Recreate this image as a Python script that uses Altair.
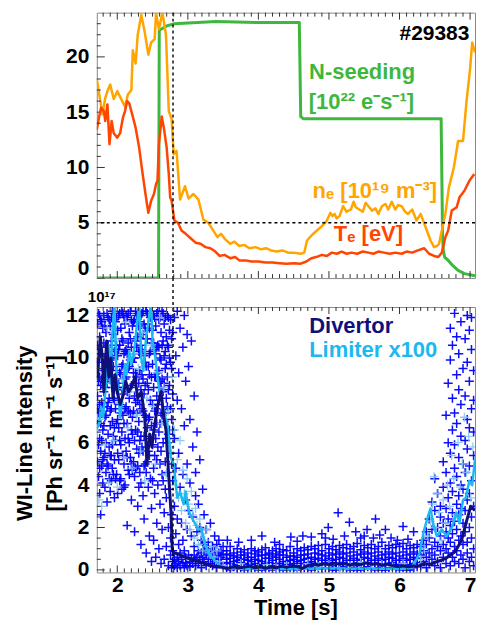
import altair as alt
import pandas as pd

# ------------------------------------------------------------------ data
# top panel: (time [s], value)
nseed_pts = [(1.71, 0.0), (2.585, 0.0), (2.595, 22.4), (2.70, 22.8), (2.81, 23.0), (3.40, 23.2),
             (4.00, 23.1), (4.58, 23.1), (4.60, 14.6), (4.64, 14.4), (5.50, 14.4), (6.59, 14.4),
             (6.61, 4.0), (6.62, 2.5), (6.64, 1.9), (6.69, 1.6), (6.76, 1.1), (6.83, 0.7),
             (6.92, 0.4), (7.07, 0.2)]

ne_pts = [(1.71, 18.0), (1.76, 16.0), (1.79, 14.8), (1.83, 16.3), (1.86, 16.9), (1.90, 17.5),
          (1.95, 16.2), (2.00, 16.9), (2.07, 16.0), (2.11, 15.5), (2.15, 16.6), (2.20, 17.0),
          (2.22, 20.6), (2.26, 19.4), (2.29, 22.0), (2.34, 23.8), (2.39, 22.2), (2.44, 20.2),
          (2.48, 21.3), (2.53, 21.6), (2.55, 24.0), (2.59, 22.5), (2.64, 24.0), (2.69, 22.0),
          (2.73, 15.1), (2.77, 14.4), (2.80, 11.2), (2.84, 11.5), (2.89, 7.1), (2.96, 8.3),
          (3.01, 7.2), (3.08, 7.6), (3.15, 7.1), (3.22, 5.3), (3.29, 5.0), (3.35, 4.4),
          (3.42, 3.7), (3.47, 4.0), (3.53, 3.5), (3.60, 3.1), (3.66, 3.3), (3.73, 2.9),
          (3.80, 3.0), (3.87, 2.7), (3.96, 2.8), (4.04, 2.6), (4.11, 2.7), (4.18, 2.5),
          (4.26, 2.4), (4.34, 2.5), (4.42, 2.3), (4.50, 2.3), (4.60, 2.2), (4.65, 2.3),
          (4.69, 3.4), (4.76, 3.9), (4.83, 4.3), (4.90, 4.7), (4.97, 5.2), (5.02, 5.9),
          (5.05, 5.6), (5.08, 5.8), (5.11, 5.4), (5.15, 5.6), (5.20, 6.5), (5.25, 6.0),
          (5.31, 6.2), (5.35, 6.9), (5.38, 6.4), (5.43, 6.2), (5.48, 6.0), (5.52, 6.8),
          (5.56, 6.5), (5.61, 6.1), (5.66, 6.3), (5.70, 5.8), (5.75, 6.5), (5.80, 6.7),
          (5.84, 6.2), (5.89, 6.9), (5.94, 6.2), (5.98, 6.6), (6.03, 6.5), (6.08, 6.0),
          (6.12, 5.8), (6.18, 6.2), (6.24, 5.2), (6.30, 5.8), (6.37, 4.6), (6.44, 3.4),
          (6.49, 2.8), (6.53, 2.9), (6.56, 3.1), (6.60, 4.3), (6.65, 5.8), (6.70, 8.2),
          (6.77, 10.0), (6.83, 12.4), (6.90, 12.4), (6.95, 16.0), (7.00, 18.9), (7.03, 21.3),
          (7.07, 20.4)]

te_pts = [(1.71, 13.4), (1.74, 14.5), (1.77, 15.4), (1.81, 15.1), (1.83, 14.2), (1.86, 15.7),
          (1.89, 12.1), (1.92, 14.2), (1.95, 13.1), (2.00, 12.7), (2.04, 13.1), (2.08, 14.5),
          (2.11, 15.1), (2.14, 16.0), (2.17, 15.8), (2.22, 14.6), (2.26, 13.6), (2.31, 11.8),
          (2.36, 9.4), (2.40, 7.6), (2.44, 5.9), (2.48, 7.0), (2.52, 7.6), (2.55, 8.5),
          (2.57, 8.8), (2.59, 12.1), (2.63, 14.6), (2.66, 13.6), (2.70, 11.8), (2.73, 9.4),
          (2.75, 7.3), (2.77, 7.0), (2.81, 5.2), (2.86, 5.0), (2.91, 4.3), (2.97, 4.0),
          (3.04, 3.6), (3.11, 3.2), (3.18, 3.1), (3.25, 2.8), (3.32, 2.7), (3.39, 2.4),
          (3.45, 2.0), (3.52, 2.1), (3.60, 1.8), (3.67, 1.9), (3.73, 1.6), (3.82, 1.6),
          (3.90, 1.5), (4.00, 1.5), (4.10, 1.4), (4.20, 1.4), (4.30, 1.35), (4.40, 1.3),
          (4.50, 1.35), (4.60, 1.3), (4.68, 1.5), (4.75, 1.8), (4.82, 1.9), (4.90, 2.1),
          (4.97, 2.0), (5.04, 2.3), (5.11, 2.2), (5.18, 2.4), (5.25, 2.2), (5.32, 2.3),
          (5.40, 2.2), (5.48, 2.4), (5.56, 2.3), (5.63, 2.2), (5.70, 2.4), (5.78, 2.3),
          (5.86, 2.2), (5.94, 2.3), (6.03, 2.2), (6.10, 2.4), (6.18, 2.3), (6.26, 2.5),
          (6.35, 2.7), (6.42, 2.2), (6.49, 2.0), (6.55, 1.9), (6.60, 2.3), (6.65, 3.7),
          (6.69, 4.3), (6.74, 6.1), (6.81, 6.4), (6.85, 7.3), (6.92, 7.9), (6.99, 8.8),
          (7.06, 9.4)]

# bottom panel: smoothed lines, 1e17 Ph sr-1 m-1 s-1
div_pts = [(1.71, 10.0), (1.72, 9.1), (1.76, 11.0), (1.79, 9.9), (1.81, 8.4), (1.85, 10.8),
           (1.88, 9.1), (1.91, 10.0), (1.94, 8.1), (1.97, 9.2), (2.00, 8.4), (2.04, 7.8),
           (2.09, 8.3), (2.12, 8.9), (2.16, 8.4), (2.20, 8.6), (2.25, 9.1), (2.29, 8.1),
           (2.34, 8.4), (2.39, 7.2), (2.42, 5.0), (2.46, 6.4), (2.49, 5.8), (2.52, 6.6),
           (2.57, 7.7), (2.62, 8.4), (2.66, 7.2), (2.69, 6.6), (2.73, 4.4), (2.76, 2.8),
           (2.78, 0.9), (2.81, 0.8), (2.90, 0.7), (3.00, 0.55), (3.10, 0.45), (3.20, 0.35),
           (3.33, 0.2), (3.45, 0.15), (3.56, 0.07), (3.65, 0.15), (3.72, 0.1), (3.79, 0.12),
           (3.88, 0.18), (3.95, 0.1), (4.03, 0.15), (4.10, 0.08), (4.18, 0.14), (4.25, 0.1),
           (4.33, 0.18), (4.40, 0.12), (4.48, 0.2), (4.56, 0.15), (4.62, 0.07), (4.70, 0.2),
           (4.78, 0.28), (4.85, 0.22), (4.92, 0.3), (5.00, 0.25), (5.08, 0.32), (5.15, 0.26),
           (5.23, 0.3), (5.30, 0.22), (5.38, 0.3), (5.45, 0.25), (5.52, 0.33), (5.60, 0.27),
           (5.68, 0.3), (5.75, 0.22), (5.83, 0.28), (5.90, 0.2), (5.98, 0.16), (6.05, 0.2),
           (6.13, 0.15), (6.20, 0.18), (6.28, 0.2), (6.35, 0.3), (6.43, 0.25), (6.51, 0.37),
           (6.58, 0.45), (6.65, 0.53), (6.72, 0.7), (6.78, 0.84), (6.83, 1.1), (6.88, 1.4),
           (6.95, 2.3), (7.01, 3.0), (7.07, 2.8)]

lim_pts = [(1.70, 6.6), (1.74, 6.9), (1.77, 7.7), (1.80, 7.2), (1.83, 8.4), (1.86, 9.7),
           (1.88, 10.6), (1.90, 8.8), (1.93, 11.1), (1.96, 12.6), (1.99, 9.2), (2.02, 8.1),
           (2.04, 7.2), (2.08, 8.4), (2.11, 9.7), (2.13, 9.2), (2.17, 10.3), (2.20, 9.7),
           (2.25, 10.6), (2.27, 11.3), (2.31, 12.6), (2.34, 10.0), (2.37, 9.4), (2.41, 11.0),
           (2.45, 11.9), (2.48, 12.6), (2.50, 10.8), (2.54, 10.0), (2.57, 9.1), (2.60, 8.4),
           (2.64, 7.8), (2.68, 7.2), (2.71, 6.9), (2.76, 5.3), (2.80, 5.0), (2.85, 3.4),
           (2.89, 3.7), (2.94, 3.1), (2.97, 3.7), (3.01, 2.8), (3.05, 2.5), (3.10, 2.2),
           (3.15, 1.9), (3.19, 2.0), (3.24, 1.25), (3.30, 0.78), (3.38, 0.45), (3.45, 0.2),
           (3.52, 0.1), (3.60, 0.05), (3.70, 0.08), (3.80, 0.03), (3.90, 0.06), (4.00, 0.04),
           (4.20, 0.07), (4.40, 0.03), (4.60, 0.06), (4.80, 0.05), (5.00, 0.08), (5.20, 0.04),
           (5.40, 0.07), (5.60, 0.05), (5.80, 0.06), (6.00, 0.04), (6.15, 0.08), (6.21, 0.3),
           (6.28, 0.76), (6.35, 1.9), (6.41, 2.6), (6.44, 2.9), (6.48, 2.1), (6.53, 1.6),
           (6.60, 1.9), (6.67, 1.6), (6.74, 2.0), (6.81, 2.7), (6.85, 2.2), (6.90, 3.3),
           (6.94, 3.4), (6.99, 4.2), (7.03, 4.0), (7.07, 5.2)]

# bottom panel raw divertor samples: (time, [values at that time])
div_raw_early = [
    (1.720, [11.6, 10.6, 9.8, 8.2, 7.6, 6.9, 5.1]), (1.735, [12.1, 10.4, 8.9, 7.4, 5.9, 4.4]),
    (1.750, [12.0, 11.0, 9.1, 7.8, 6.2, 4.8, 3.6]), (1.765, [11.8, 10.2, 8.7, 6.9, 5.6, 2.6]),
    (1.780, [11.7, 10.2, 9.0, 7.9, 6.1, 4.9]), (1.795, [11.4, 9.5, 7.7, 6.6, 5.2, 4.1]),
    (1.810, [12.0, 10.7, 9.4, 8.4, 6.8, 5.3]), (1.825, [11.5, 9.9, 8.6, 7.2, 5.5, 3.9]),
    (1.840, [11.2, 10.1, 8.9, 7.3, 6.0, 4.6]), (1.855, [12.1, 10.5, 8.8, 7.7, 5.0, 3.2]),
    (1.870, [11.9, 10.6, 9.3, 7.9, 6.4, 4.9]), (1.885, [11.8, 10.0, 9.2, 8.1, 5.8, 4.3]),
    (1.900, [11.5, 9.9, 7.5, 6.8, 5.4, 3.7]), (1.915, [11.9, 10.8, 9.0, 7.6, 5.4, 4.2]),
    (1.930, [12.2, 10.0, 8.6, 7.0, 5.9, 4.8]), (1.945, [11.1, 9.6, 8.1, 6.3, 4.5]),
    (1.960, [11.8, 10.3, 8.0, 6.7, 5.2, 3.4]), (1.975, [11.7, 10.4, 9.0, 7.6, 6.1, 4.3]),
    (1.990, [11.9, 10.6, 9.4, 8.5, 6.9, 4.5]), (2.005, [11.3, 10.1, 8.6, 7.1, 5.5, 3.6]),
    (2.020, [12.0, 10.4, 8.8, 6.7, 5.2]), (2.035, [12.1, 10.6, 9.3, 7.8, 6.1, 4.2]),
    (2.050, [11.4, 9.2, 7.4, 5.9, 4.3]), (2.065, [12.2, 10.9, 9.6, 8.3, 6.5, 3.8]),
    (2.080, [12.1, 10.8, 9.7, 7.3, 5.4]), (2.095, [11.9, 10.2, 8.6, 6.9, 5.0, 3.9]),
    (2.110, [11.6, 10.3, 9.0, 7.6, 6.2, 4.0]), (2.125, [12.0, 10.4, 9.1, 7.7, 5.6]),
    (2.140, [11.9, 10.2, 8.4, 6.9, 5.3, 2.1]), (2.155, [12.1, 10.7, 9.5, 7.5, 6.2, 4.7]),
    (2.170, [11.2, 9.6, 8.1, 6.0, 4.5]), (2.185, [12.2, 10.9, 9.9, 8.6, 7.4, 5.3]),
    (2.200, [11.8, 10.5, 8.7, 6.6, 5.0, 3.3]), (2.215, [11.5, 9.8, 7.2, 6.4, 4.7]),
    (2.230, [11.7, 10.0, 9.3, 7.5, 5.1]), (2.245, [11.8, 10.0, 8.2, 6.1, 4.4, 1.8]),
    (2.260, [12.2, 10.8, 9.3, 7.9, 6.6, 4.8]), (2.275, [12.0, 10.5, 9.1, 7.4, 5.7]),
    (2.290, [12.1, 11.0, 8.0, 6.5, 4.9, 3.0]), (2.305, [11.5, 10.3, 8.8, 7.0, 5.5, 3.9]),
    (2.320, [11.7, 10.2, 9.4, 7.8, 6.1, 4.6]), (2.335, [12.0, 10.6, 8.5, 6.3, 4.1, 1.2]),
    (2.350, [12.1, 10.4, 9.2, 7.6, 5.8]), (2.365, [12.2, 11.1, 9.0, 7.5, 5.6, 3.5]),
    (2.380, [11.6, 10.1, 8.3, 6.3, 4.9, 2.4]), (2.395, [11.4, 9.8, 8.7, 7.3, 5.0]),
    (2.410, [12.2, 10.9, 9.6, 7.2, 4.6, 0.8]), (2.425, [12.1, 10.9, 8.8, 6.7, 5.1]),
    (2.440, [11.6, 9.6, 8.5, 7.1, 5.6, 3.9]), (2.455, [11.4, 10.2, 9.2, 7.2, 5.4, 1.6]),
    (2.470, [11.9, 10.3, 8.0, 6.2, 4.3]), (2.485, [12.2, 10.7, 9.1, 6.8, 2.9, 0.4]),
    (2.500, [11.3, 9.7, 7.8, 5.9, 4.2]), (2.515, [12.0, 10.7, 8.6, 6.6, 4.8, 1.4]),
    (2.530, [11.9, 10.4, 9.1, 7.5, 5.4, 3.6]), (2.545, [11.5, 10.2, 9.1, 7.6, 6.2, 0.6]),
    (2.560, [12.1, 10.5, 8.2, 6.9, 5.2, 2.2]), (2.575, [12.2, 10.6, 9.3, 7.8, 5.8, 4.0]),
    (2.590, [11.8, 10.5, 9.4, 8.0, 6.5, 1.0]), (2.605, [11.9, 10.0, 8.9, 6.9, 5.0, 3.1]),
    (2.620, [11.2, 9.9, 8.6, 7.4, 5.6, 0.3]), (2.635, [12.2, 10.6, 9.0, 7.3, 4.5, 1.9]),
    (2.650, [12.1, 10.8, 8.4, 6.0, 4.2]), (2.665, [11.6, 10.1, 8.8, 7.0, 2.7, 0.5]),
    (2.680, [11.9, 10.3, 9.5, 7.4, 5.1, 3.8]), (2.695, [11.0, 9.7, 8.1, 6.2, 3.4, 1.1]),
    (2.710, [12.0, 10.6, 9.1, 7.7, 6.0, 4.6]), (2.725, [11.9, 10.5, 8.5, 6.4, 2.0, 0.2]),
    (2.740, [11.3, 10.0, 8.7, 6.6, 3.8]), (2.755, [11.8, 9.8, 7.6, 5.5, 1.5, 0.7]),
    (2.770, [10.9, 9.5, 7.1, 5.0, 2.6, 0.1]), (2.785, [11.2, 8.3, 6.6, 4.2, 0.9, 0.4]),
]

div_raw_drop = [
    (2.81, [11.9, 6.2, 3.0, 0.5, 0.2]), (2.83, [10.1, 4.8, 1.7, 0.3]),
    (2.85, [12.2, 8.0, 2.4, 0.6, 0.1]), (2.87, [9.3, 5.5, 1.2, 0.4]),
    (2.89, [11.4, 3.9, 0.8, 0.2]), (2.91, [7.6, 2.2, 0.5]),
    (2.93, [10.5, 4.5, 1.4, 0.3]), (2.95, [12.0, 6.8, 0.9, 0.1]),
    (2.97, [8.9, 3.3, 0.6, 0.35]), (2.99, [11.1, 5.0, 1.9, 0.2]),
    (3.01, [9.6, 2.8, 0.7]), (3.03, [7.1, 4.1, 0.4, 0.15]),
    (3.05, [10.8, 1.6, 0.55]), (3.07, [5.8, 2.5, 0.3]),
    (3.09, [8.2, 1.1, 0.7]), (3.11, [4.6, 3.5, 0.2, 0.45]),
    (3.13, [6.5, 1.8, 0.6]), (3.15, [3.1, 0.9, 0.3]),
    (3.17, [5.2, 2.0, 0.5]), (3.19, [1.4, 0.8, 0.1]),
    (3.21, [3.8, 1.2, 0.6]), (3.23, [2.6, 0.4, 0.9]),
    (3.26, [1.9, 0.7, 0.2]), (3.29, [1.3, 0.5, 1.0]),
    (3.32, [2.2, 0.3, 0.8]), (3.35, [1.1, 0.6, 0.2]),
    (3.38, [1.6, 0.9, 0.4]), (3.41, [0.7, 1.2, 0.1]),
    (3.44, [1.4, 0.5, 0.8]), (3.47, [0.9, 0.3, 0.6]),
    (3.50, [1.1, 0.7, 0.2]),
]

div_raw_flat = [
    (3.55, [0.1, 0.35, 0.5, 0.75, 0.9]), (3.60, [0.0, 0.3, 0.55, 0.7, 1.1]),
    (3.65, [0.15, 0.25, 0.4, 0.65, 0.8]), (3.70, [0.05, 0.2, 0.45, 0.6, 1.0]),
    (3.75, [0.1, 0.35, 0.5, 0.7, 0.85]), (3.80, [0.0, 0.3, 0.5, 0.7, 0.95]),
    (3.85, [0.05, 0.25, 0.45, 0.6, 0.8]), (3.90, [0.1, 0.25, 0.4, 0.6, 1.0]),
    (3.95, [0.1, 0.3, 0.5, 0.75, 0.9]), (4.00, [0.0, 0.2, 0.45, 0.65, 0.85]),
    (4.05, [0.0, 0.25, 0.4, 0.7, 0.95]), (4.10, [0.1, 0.3, 0.55, 0.7, 1.05]),
    (4.15, [0.1, 0.35, 0.55, 0.75, 0.8]), (4.20, [0.0, 0.2, 0.45, 0.65, 0.9]),
    (4.25, [0.05, 0.3, 0.6, 0.75, 1.0]), (4.30, [0.1, 0.3, 0.5, 0.7, 0.85]),
    (4.35, [0.0, 0.15, 0.4, 0.7, 0.95]), (4.40, [0.0, 0.25, 0.4, 0.6, 0.9]),
    (4.45, [0.1, 0.25, 0.45, 0.65, 1.1]), (4.50, [0.1, 0.3, 0.5, 0.65, 0.8]),
    (4.55, [0.0, 0.2, 0.4, 0.6, 1.0]), (4.60, [0.05, 0.3, 0.45, 0.7, 0.9]),
    (4.65, [0.1, 0.3, 0.5, 0.7, 1.05]), (4.70, [0.1, 0.35, 0.55, 0.75, 0.95]),
    (4.75, [0.0, 0.2, 0.4, 0.6, 1.1]), (4.80, [0.15, 0.3, 0.5, 0.8, 1.0]),
    (4.85, [0.05, 0.3, 0.55, 0.75, 1.15]), (4.90, [0.05, 0.25, 0.45, 0.7, 0.9]),
    (4.95, [0.1, 0.25, 0.45, 0.65, 1.2]), (5.00, [0.1, 0.35, 0.55, 0.8, 1.0]),
    (5.05, [0.0, 0.2, 0.45, 0.7, 1.1]), (5.10, [0.0, 0.3, 0.5, 0.75, 0.95]),
    (5.15, [0.1, 0.3, 0.6, 0.85, 1.15]), (5.20, [0.15, 0.35, 0.55, 0.75, 1.05]),
    (5.25, [0.05, 0.25, 0.45, 0.8, 1.2]), (5.30, [0.0, 0.25, 0.45, 0.65, 1.0]),
    (5.35, [0.1, 0.3, 0.55, 0.85, 1.1]), (5.40, [0.0, 0.2, 0.45, 0.7, 1.25]),
    (5.45, [0.0, 0.25, 0.5, 0.75, 0.95]), (5.50, [0.1, 0.3, 0.6, 0.85, 1.15]),
    (5.55, [0.15, 0.35, 0.55, 0.75, 1.05]), (5.60, [0.05, 0.25, 0.45, 0.8, 1.2]),
    (5.65, [0.0, 0.25, 0.45, 0.65, 1.0]), (5.70, [0.1, 0.3, 0.55, 0.85, 1.1]),
    (5.75, [0.0, 0.2, 0.45, 0.7, 1.3]), (5.80, [0.0, 0.25, 0.5, 0.75, 1.0]),
    (5.85, [0.1, 0.3, 0.6, 0.85, 1.15]), (5.90, [0.15, 0.35, 0.55, 0.75, 1.05]),
    (5.95, [0.05, 0.25, 0.45, 0.8, 1.2]), (6.00, [0.0, 0.25, 0.45, 0.65, 1.1]),
    (6.05, [0.1, 0.3, 0.55, 0.85, 1.25]), (6.10, [0.0, 0.2, 0.45, 0.7, 1.0]),
    (6.15, [0.0, 0.25, 0.5, 0.75, 1.15]), (6.20, [0.1, 0.3, 0.6, 0.85, 1.05]),
    (6.25, [0.15, 0.35, 0.55, 0.75, 1.2]),
]

div_raw_flat_out = [(3.56, 1.4), (3.72, 1.3), (3.90, 1.4), (4.05, 1.6), (4.23, 1.3), (4.30, 1.2),
                    (4.46, 1.55), (4.55, 1.35), (4.63, 1.6), (4.75, 1.55), (4.90, 1.7), (4.95, 1.5),
                    (4.99, 2.0), (5.06, 1.45), (5.13, 2.7), (5.22, 1.6), (5.29, 2.25), (5.38, 1.8),
                    (5.45, 1.5), (5.50, 1.6), (5.54, 1.9), (5.63, 1.5), (5.66, 2.4), (5.72, 1.65),
                    (5.80, 1.9), (5.88, 1.5), (5.97, 1.4), (6.05, 2.05), (6.12, 1.45), (6.20, 1.8)]

div_raw_late = [
    (6.30, [0.2, 0.7, 1.1]), (6.34, [0.4, 0.9, 1.4]), (6.38, [0.1, 0.6, 1.2, 1.8]),
    (6.42, [0.3, 0.8, 1.5, 2.4]), (6.46, [0.5, 1.0, 1.9, 3.2]),
    (6.50, [0.2, 0.7, 1.3, 2.8, 4.3]), (6.54, [0.4, 1.1, 2.0, 3.6]),
    (6.58, [0.1, 0.9, 1.6, 2.5, 3.0]), (6.62, [0.6, 1.2, 2.2, 3.9, 5.1]),
    (6.66, [0.3, 1.0, 1.8, 2.9, 4.6, 7.3]), (6.69, [0.8, 1.5, 2.4, 3.4, 6.0, 8.8]),
    (6.72, [0.2, 1.3, 2.1, 4.1, 5.5, 9.9, 11.4]), (6.75, [0.6, 1.7, 2.7, 3.7, 6.6, 8.1, 10.6]),
    (6.78, [0.4, 1.1, 2.3, 4.8, 5.9, 7.4, 12.1]), (6.81, [0.9, 1.9, 3.1, 4.4, 6.9, 9.2, 11.0]),
    (6.84, [0.3, 1.4, 2.6, 3.5, 5.3, 8.5, 10.2]), (6.87, [0.7, 1.6, 2.9, 4.0, 6.3, 7.8, 11.7]),
    (6.90, [0.5, 1.2, 2.2, 3.8, 5.0, 9.5]), (6.93, [0.1, 1.8, 2.8, 4.6, 6.1, 8.2, 10.9]),
    (6.96, [0.8, 1.3, 3.3, 5.7, 7.1, 9.8, 12.0]), (6.99, [0.4, 2.0, 3.6, 4.9, 6.7, 8.9, 11.3]),
    (7.02, [0.6, 1.5, 2.5, 4.2, 7.6, 10.4, 11.9]), (7.05, [0.2, 1.0, 3.0, 5.4, 6.5, 8.0, 9.4]),
]

# bottom panel raw limiter samples (x100)
lim_raw_pts = [(1.72, 6.5), (1.74, 3.3), (1.76, 7.1), (1.78, 3.0), (1.80, 9.6), (1.83, 5.9),
               (1.86, 11.4), (1.88, 4.1), (1.91, 8.8), (1.94, 6.1), (1.97, 10.9), (2.00, 3.9),
               (2.03, 7.9), (2.06, 9.0), (2.09, 5.3), (2.12, 11.7), (2.15, 6.7), (2.18, 8.4),
               (2.21, 4.8), (2.24, 10.2), (2.27, 7.3), (2.30, 9.5), (2.33, 5.6), (2.36, 11.2),
               (2.39, 4.2), (2.42, 8.1), (2.45, 6.4), (2.48, 10.6), (2.51, 7.7), (2.54, 5.0),
               (2.57, 9.3), (2.60, 11.9), (2.63, 6.9), (2.66, 8.6), (2.69, 4.5), (2.72, 7.5),
               (2.75, 5.8), (2.78, 9.1),
               (2.81, 6.6), (2.83, 4.0), (2.85, 5.2), (2.87, 3.4), (2.89, 6.1), (2.91, 2.8),
               (2.93, 4.7), (2.95, 3.6), (2.97, 2.2), (2.99, 4.3), (3.01, 3.1), (3.03, 1.9),
               (3.05, 3.7), (3.07, 2.6), (3.09, 1.5), (3.11, 2.9), (3.13, 2.1), (3.15, 1.2),
               (3.17, 2.4), (3.19, 1.7), (3.21, 0.9), (3.24, 1.4), (3.27, 1.9), (3.30, 0.8),
               (3.33, 1.1), (3.37, 0.6), (3.41, 0.9), (3.45, 0.4),
               (3.50, 0.2), (3.62, 0.1), (3.75, 0.3), (3.88, 0.15), (4.00, 0.05), (4.12, 0.25),
               (4.25, 0.1), (4.40, 0.2), (4.55, 0.05), (4.70, 0.3), (4.85, 0.15), (5.00, 0.25),
               (5.15, 0.1), (5.30, 0.2), (5.45, 0.35), (5.60, 0.1), (5.75, 0.25), (5.90, 0.15),
               (6.05, 0.3), (6.20, 0.2),
               (6.30, 0.5), (6.35, 1.0), (6.40, 1.6), (6.44, 2.3), (6.47, 3.1), (6.49, 4.4),
               (6.50, 2.0), (6.53, 3.6), (6.56, 2.7), (6.59, 1.4), (6.62, 3.3), (6.65, 2.2),
               (6.68, 4.0), (6.71, 3.0), (6.74, 5.4), (6.77, 4.3), (6.80, 2.6), (6.83, 6.0),
               (6.86, 3.9), (6.89, 5.0), (6.92, 7.2), (6.95, 4.6), (6.98, 6.3), (7.01, 3.4),
               (7.04, 5.8)]

x_tick_labels = [2, 3, 4, 5, 6, 7]
top_y_labels = [0, 5, 10, 15, 20]
bot_y_labels = [0, 2, 4, 6, 8, 10, 12]
seed_onset_t = [2.79]
ne_threshold = [5]

# ------------------------------------------------------------------ style
FONT = "Liberation Sans"
GREEN = "#3DB83D"
ORANGE = "#FFA500"
RED = "#FF4500"
NAVY = "#10107A"
SKY = "#1CB8F0"
RAWBLUE = "#0000FF"
RAWLIGHT = "#86C6EE"
FRAME = "#8a8a8a"
TICK = "#333333"
W, H = 379, 266
GAP = 29

xsc = alt.Scale(domain=[1.71, 7.07], nice=False, zero=False)
top_sc = alt.Scale(domain=[0, 24], nice=False, zero=False)
bot_sc = alt.Scale(domain=[-0.12, 12.4], nice=False, zero=False)
CROSS = "M-1,0L1,0M0,-1L0,1"

lab = dict(labelFont=FONT, labelFontWeight="bold", labelFontSize=21, labelColor="black",
           grid=False, ticks=False, tickSize=0, domain=False)
top_yaxis = alt.Axis(values=top_y_labels, title=None, labelPadding=8, labelFlush=True, **lab)
bot_yaxis = alt.Axis(values=bot_y_labels, labelPadding=8, labelFlush=False,
                     title=["WI-Line Intensity", "[Ph sr\u207b\u00b9 m\u207b\u00b9 s\u207b\u00b9]"],
                     titleFont=FONT, titleFontWeight="bold", titleFontSize=22, titleColor="black",
                     titleLineHeight=30, titleX=-60, titleY=126, titleBaseline="bottom", **lab)
bot_xaxis = alt.Axis(values=x_tick_labels, labelPadding=2, title="Time [s]",
                     titleFont=FONT, titleFontWeight="bold", titleFontSize=22, titleColor="black",
                     titlePadding=2, titleX=199, **lab)

# per panel: (x axis, y axis, y scale)
TOP = (None, top_yaxis, top_sc)
BOT = (bot_xaxis, bot_yaxis, bot_sc)


def pts_df(pts):
    return pd.DataFrame({"t": [p[0] for p in pts], "v": [p[1] for p in pts],
                         "i": list(range(len(pts)))})


def cols_df(cols):
    return pts_df([(t, v) for t, vs in cols for v in vs])


def X(p):
    return alt.X("t:Q", scale=xsc, axis=p[0])


def Y(p):
    return alt.Y("v:Q", scale=p[2], axis=p[1])


def line(pts, color, width, p):
    return alt.Chart(pts_df(pts)).mark_line(
        color=color, strokeWidth=width, clip=True, strokeJoin="round"
    ).encode(x=X(p), y=Y(p), order=alt.Order("i:Q"))


def crosses(df, color, opacity, width, p):
    return alt.Chart(df).mark_point(
        shape=CROSS, filled=False, stroke=color, strokeWidth=width, size=81,
        opacity=opacity, clip=True
    ).encode(x=X(p), y=Y(p))


def xticks(vals, length, edge, p):
    if edge == "top":
        y1, y2 = alt.value(0), alt.value(length)
    else:
        y1, y2 = alt.value(H), alt.value(H - length)
    return alt.Chart(pd.DataFrame({"t": vals})).mark_rule(color=TICK, strokeWidth=1).encode(
        x=X(p), y=y1, y2=y2)


def yticks(vals, length, p):
    return alt.Chart(pd.DataFrame({"v": vals})).mark_rule(color=TICK, strokeWidth=1).encode(
        y=Y(p), x=alt.value(0), x2=alt.value(length))


def label(text, t, v, color, size, align, p):
    return alt.Chart(pd.DataFrame({"t": [t], "v": [v], "s": [text]})).mark_text(
        font=FONT, fontWeight="bold", fontSize=size, color=color, align=align, baseline="middle"
    ).encode(x=X(p), y=Y(p), text="s:N")


x_minor = [round(1.8 + 0.1 * k, 1) for k in range(53)]
x_minor = [v for v in x_minor if abs(v - round(v)) > 1e-6]
top_minor = [v for v in range(1, 24) if v % 5]
bot_minor = [k * 0.5 for k in range(0, 25) if (k * 0.5) % 2]

dotted = dict(color="black", strokeWidth=1.4, strokeDash=[3, 3])

# ------------------------------------------------------------------ top panel
top = alt.layer(
    yticks(top_y_labels, 8, TOP),
    line(nseed_pts, GREEN, 3, TOP),
    line(ne_pts, ORANGE, 2.5, TOP),
    line(te_pts, RED, 2.5, TOP),
    alt.Chart(pd.DataFrame({"t": seed_onset_t})).mark_rule(**dotted).encode(x=X(TOP)),
    alt.Chart(pd.DataFrame({"v": ne_threshold})).mark_rule(**dotted).encode(y=Y(TOP)),
    xticks(x_tick_labels, 7, "top", TOP),
    xticks(x_minor, 4, "top", TOP),
    xticks(x_tick_labels, 7, "bottom", TOP),
    xticks(x_minor, 4, "bottom", TOP),
    yticks(top_minor, 4, TOP),
    label("#29383", 6.99, 22.1, "black", 21, "right", TOP),
    label("N-seeding", 5.47, 18.65, GREEN, 22, "center", TOP),
    label("[10\u00b2\u00b2 e\u207bs\u207b\u00b9]", 5.46, 15.95, GREEN, 22, "center", TOP),
    label("n\u2091 [10\u00b9\u2079 m\u207b\u00b3]", 5.65, 7.9, ORANGE, 22, "center", TOP),
    label("T\u2091 [eV]", 5.56, 4.0, RED, 22, "center", TOP),
).properties(width=W, height=H)

# ------------------------------------------------------------------ bottom panel
div_raw_df = pd.concat([cols_df(div_raw_early), cols_df(div_raw_drop), cols_df(div_raw_flat),
                        pts_df(div_raw_flat_out), cols_df(div_raw_late)], ignore_index=True)

bottom = alt.layer(
    crosses(div_raw_df, RAWBLUE, 0.95, 1.5, BOT),
    crosses(pts_df(lim_raw_pts), RAWLIGHT, 0.9, 1.3, BOT),
    line(lim_pts, SKY, 2.5, BOT),
    line(div_pts, NAVY, 3, BOT),
    alt.Chart(pd.DataFrame({"t": seed_onset_t})).mark_rule(**dotted).encode(
        x=X(BOT), y=alt.value(-GAP), y2=alt.value(H)),
    xticks(x_tick_labels, 7, "top", BOT),
    xticks(x_minor, 4, "top", BOT),
    xticks(x_tick_labels, 7, "bottom", BOT),
    xticks(x_minor, 4, "bottom", BOT),
    yticks(bot_y_labels, 8, BOT),
    yticks(bot_minor, 4, BOT),
    label("Divertor", 4.72, 11.5, NAVY, 22, "left", BOT),
    label("Limiter x100", 4.72, 10.36, SKY, 22, "left", BOT),
    alt.Chart(pd.DataFrame({"s": ["10\u00b9\u2077"]})).mark_text(
        font=FONT, fontWeight="bold", fontSize=15, color="black", align="left", baseline="middle"
    ).encode(x=alt.value(-9), y=alt.value(-10), text="s:N"),
).properties(width=W, height=H)

chart = alt.vconcat(top, bottom, spacing=GAP, bounds="flush").properties(
    padding={"left": 5, "top": 2, "right": -1, "bottom": 0}, background="white"
).configure_view(stroke=FRAME, strokeWidth=1)

chart.save("out.html", embed_options={"renderer": "svg", "actions": False})
